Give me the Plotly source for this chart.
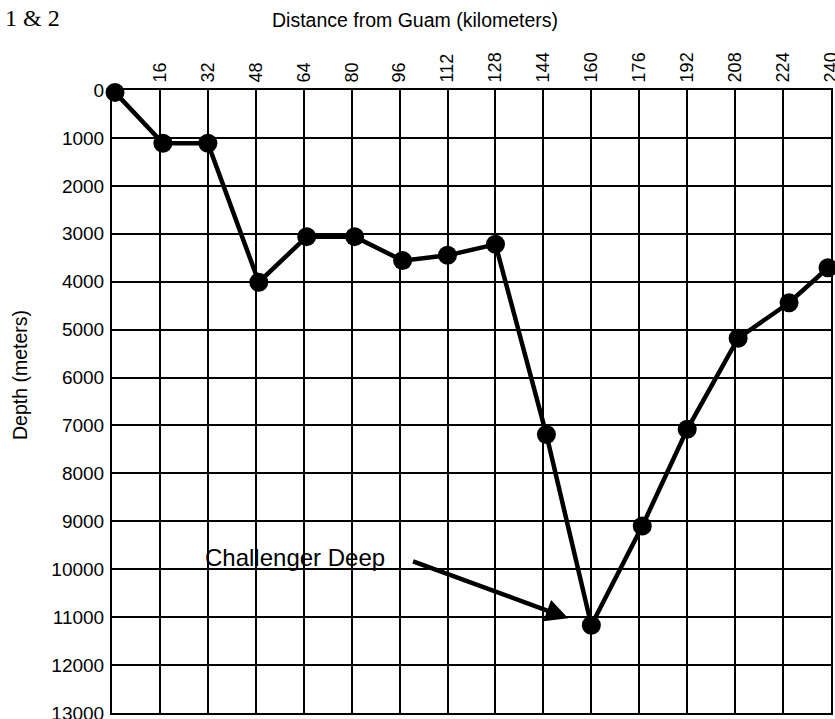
import plotly.graph_objects as go

# Data
distance_km = [1, 17, 32, 49, 65, 81, 97, 112, 128, 145, 160, 177, 192, 209, 226, 239]
depth_m = [50, 1110, 1110, 4010, 3060, 3060, 3560, 3450, 3220, 7190, 11170, 9100, 7080, 5180, 4440, 3710]

x_ticks = list(range(16, 241, 16))
y_ticks = list(range(0, 13001, 1000))

FONT = "Liberation Sans, Arial, Helvetica, sans-serif"

fig = go.Figure()
fig.add_trace(go.Scatter(
    x=distance_km, y=depth_m, mode="lines+markers",
    line=dict(color="black", width=4.5),
    marker=dict(color="black", size=19),
    cliponaxis=False, showlegend=False,
))

fig.update_layout(
    template="none",
    width=835, height=719,
    margin=dict(l=112, r=4, t=90, b=6, autoexpand=False),
    paper_bgcolor="white", plot_bgcolor="white",
    font=dict(family=FONT, color="black"),
    xaxis=dict(
        range=[0, 240], side="top", tickmode="array", tickvals=x_ticks,
        ticktext=[str(v) for v in x_ticks], tickangle=-90,
        tickfont=dict(size=18, family=FONT, color="black"),
        showgrid=True, gridcolor="black", gridwidth=2,
        showline=True, linecolor="black", linewidth=2, mirror=True,
        zeroline=False, ticks="", ticklabelstandoff=2,
        ticklabeloverflow="allow", automargin=False,
    ),
    yaxis=dict(
        range=[13000, 0], tickmode="array", tickvals=y_ticks,
        ticktext=[str(v) for v in y_ticks],
        tickfont=dict(size=19, family=FONT, color="black"),
        showgrid=True, gridcolor="black", gridwidth=2,
        showline=True, linecolor="black", linewidth=2, mirror=True,
        zeroline=False, ticks="", ticklabelstandoff=2,
        ticklabeloverflow="allow", automargin=False,
    ),
    annotations=[
        dict(text="Distance from Guam (kilometers)", xref="paper", yref="paper",
             x=0.421, y=1.1124, xanchor="center", yanchor="middle", showarrow=False,
             font=dict(size=19.5, family=FONT, color="black")),
        dict(text="Depth (meters)", xref="paper", yref="paper", textangle=-90,
             x=-0.128, y=0.5425, xanchor="center", yanchor="middle", showarrow=False,
             font=dict(size=19.5, family=FONT, color="black")),
        dict(text="1 &amp; 2", xref="paper", yref="paper",
             x=-0.1516, y=1.1156, xanchor="left", yanchor="middle", showarrow=False,
             font=dict(size=24, family="Liberation Serif, Times New Roman, serif", color="black")),
        dict(text="Challenger Deep", xref="x", yref="y",
             x=61, y=9745, xanchor="center", yanchor="middle", showarrow=False,
             font=dict(size=24, family=FONT, color="black")),
        dict(text="", xref="x", yref="y", axref="x", ayref="y",
             x=152.3, y=11025, ax=100.0, ay=9823,
             showarrow=True, arrowhead=2, arrowsize=1, arrowwidth=4.5,
             arrowcolor="black", standoff=0, startstandoff=0),
    ],
)

fig.write_html(
    "out.html",
    config={"displayModeBar": False},
    post_script="document.body.style.margin='0';document.body.style.overflow='hidden';",
)
